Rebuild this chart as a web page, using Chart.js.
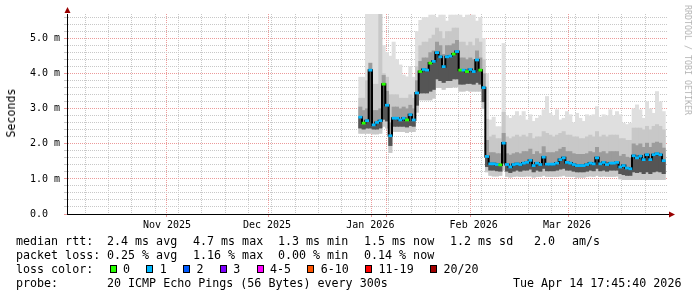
<!DOCTYPE html>
<html>
<head>
<meta charset="utf-8">
<title>Smokeping - median rtt</title>
<script src="https://cdn.jsdelivr.net/npm/chart.js@4.4.1/dist/chart.umd.min.js"></script>
<style>
  body { margin: 0; background: #fff; }
  #box { position: relative; width: 697px; height: 297px; overflow: hidden; }
  #chart { position: absolute; left: 0; top: 0; }
  .t { position: absolute; font-family: "DejaVu Sans Mono", monospace; font-size: 11.66px; line-height: 14px; white-space: pre; color: #000; }
  .sw { display: inline-block; width: 5px; height: 6.3px; border: 1px solid #000; margin: 0 6.3px 0 2.4px; }
  .rot { position: absolute; font-family: "DejaVu Sans Mono", monospace; white-space: pre; transform: translate(-50%, -50%) rotate(90deg); }
</style>
</head>
<body>
<div id="box">
  <canvas id="chart" width="697" height="297"></canvas>
  <div class="rot" style="left:11px; top:113px; font-size:11.66px; transform: translate(-50%, -50%) rotate(-90deg);">Seconds</div>
  <div class="rot" style="left:688px; top:60px; font-size:8.3px; color:#b4b4b4;">RRDTOOL / TOBI OETIKER</div>

  <div class="t" style="left:16px; top:234px;">median rtt:</div>
  <div class="t" style="left:107px; top:234px;">2.4 ms avg</div>
  <div class="t" style="left:193px; top:234px;">4.7 ms max</div>
  <div class="t" style="left:278px; top:234px;">1.3 ms min</div>
  <div class="t" style="left:364px; top:234px;">1.5 ms now</div>
  <div class="t" style="left:450px; top:234px;">1.2 ms sd</div>
  <div class="t" style="left:534px; top:234px;">2.0</div>
  <div class="t" style="left:572px; top:234px;">am/s</div>

  <div class="t" style="left:16px; top:248px;">packet loss:</div>
  <div class="t" style="left:107px; top:248px;">0.25 % avg</div>
  <div class="t" style="left:193px; top:248px;">1.16 % max</div>
  <div class="t" style="left:278px; top:248px;">0.00 % min</div>
  <div class="t" style="left:364px; top:248px;">0.14 % now</div>

  <div class="t" style="left:16px; top:262px;">loss color:</div>
  <div class="t" id="lossRow" style="left:107.3px; top:262px;"></div>

  <div class="t" style="left:16px; top:276px;">probe:</div>
  <div class="t" style="left:107px; top:276px;">20 ICMP Echo Pings (56 Bytes) every 300s</div>
  <div class="t" style="left:513px; top:276px;">Tue Apr 14 17:45:40 2026</div>
</div>

<script>
// time axis is in days since Oct 2 2025, one sample per day
const firstDay = 88;

// median rtt per day (ms)
const medRtt = [
  2.76, 2.59, 2.66, 4.10, 2.54, 2.61, 2.66, 3.70, 3.10, 2.23,
  2.73, 2.73, 2.68, 2.73, 2.68, 2.83, 2.68, 3.45, 4.06, 4.12,
  4.10, 4.30, 4.35, 4.60, 4.48, 4.20, 4.48, 4.50, 4.56, 4.63,
  4.10, 4.10, 4.06, 4.12, 4.06, 4.39, 4.10, 3.60, 1.64, 1.43,
  1.43, 1.41, 1.40, 2.02, 1.41, 1.34, 1.41, 1.43, 1.41, 1.45,
  1.47, 1.53, 1.38, 1.45, 1.41, 1.62, 1.42, 1.42, 1.42, 1.45,
  1.55, 1.60, 1.47, 1.45, 1.41, 1.38, 1.38, 1.38, 1.41, 1.45,
  1.43, 1.60, 1.43, 1.47, 1.41, 1.45, 1.45, 1.47, 1.34, 1.38,
  1.31, 1.29, 1.66, 1.60, 1.65, 1.55, 1.69, 1.55, 1.69, 1.72,
  1.69, 1.52
];

// slowest ping of the day (top of the light smoke)
const smokeHi = [
  3.90, 3.90, 5.70, 5.70, 5.70, 5.70, 5.70, 4.80, 4.60, 4.50,
  4.90, 4.40, 4.25, 3.96, 3.91, 4.20, 3.90, 5.20, 5.52, 5.60,
  5.60, 5.67, 5.67, 5.60, 5.67, 5.67, 5.50, 5.67, 5.67, 5.67,
  5.67, 5.60, 5.67, 5.67, 5.67, 5.50, 5.60, 5.00, 4.00, 2.68,
  2.76, 2.49, 2.49, 4.86, 2.80, 2.73, 2.80, 2.92, 2.80, 2.92,
  2.68, 2.83, 2.64, 2.73, 2.80, 2.97, 3.35, 2.87, 2.80, 2.97,
  2.68, 2.73, 2.92, 2.83, 2.60, 2.87, 2.73, 2.64, 2.83, 2.80,
  2.83, 3.06, 2.76, 2.83, 2.80, 2.97, 2.80, 2.92, 2.83, 2.59,
  2.55, 2.59, 3.00, 3.11, 2.97, 2.73, 3.20, 3.00, 2.87, 3.49,
  3.20, 2.92
];

// top of the medium grey smoke
const smokeMid = [
  3.30, 3.30, 3.80, 3.80, 3.70, 3.70, 5.70, 4.00, 3.90, 3.40,
  3.40, 3.40, 3.30, 3.30, 3.30, 3.40, 3.30, 4.20, 4.80, 4.90,
  4.90, 5.00, 5.10, 5.30, 5.20, 5.00, 5.20, 5.20, 5.30, 5.30,
  4.90, 4.90, 4.80, 4.90, 4.80, 5.00, 4.90, 4.40, 2.70, 2.20,
  2.25, 2.15, 2.15, 2.90, 2.20, 2.15, 2.20, 2.25, 2.20, 2.25,
  2.20, 2.30, 2.15, 2.20, 2.20, 2.35, 2.30, 2.25, 2.20, 2.25,
  2.30, 2.35, 2.25, 2.25, 2.20, 2.20, 2.15, 2.15, 2.20, 2.25,
  2.20, 2.35, 2.20, 2.25, 2.20, 2.25, 2.25, 2.25, 2.15, 2.15,
  2.10, 2.10, 2.45, 2.45, 2.45, 2.40, 2.50, 2.40, 2.50, 2.55,
  2.50, 2.40
];

// top of the dark grey smoke
const smokeDark = [
  3.05, 2.95, 3.00, 4.30, 2.95, 2.95, 3.00, 3.95, 3.50, 2.60,
  3.05, 3.05, 3.00, 3.05, 3.00, 3.10, 3.00, 3.80, 4.35, 4.45,
  4.45, 4.60, 4.65, 4.90, 4.80, 4.55, 4.80, 4.80, 4.85, 4.95,
  4.45, 4.45, 4.40, 4.45, 4.40, 4.65, 4.45, 4.00, 2.10, 1.75,
  1.75, 1.72, 1.72, 2.30, 1.72, 1.68, 1.72, 1.75, 1.72, 1.78,
  1.78, 1.85, 1.70, 1.78, 1.72, 1.92, 1.75, 1.75, 1.75, 1.78,
  1.85, 1.90, 1.78, 1.78, 1.72, 1.70, 1.70, 1.70, 1.72, 1.78,
  1.75, 1.90, 1.75, 1.78, 1.72, 1.78, 1.78, 1.78, 1.65, 1.70,
  1.62, 1.60, 2.00, 1.95, 2.00, 1.90, 2.02, 1.90, 2.02, 2.05,
  2.02, 1.88
];

// bottom of the dark smoke
const smokeDarkLo = [
  2.45, 2.42, 2.45, 2.45, 2.42, 2.42, 2.45, 2.70, 2.65, 1.95,
  2.50, 2.50, 2.50, 2.50, 2.48, 2.52, 2.50, 3.10, 3.45, 3.45,
  3.45, 3.50, 3.55, 3.85, 3.80, 3.75, 3.80, 3.80, 3.85, 3.85,
  3.70, 3.70, 3.72, 3.72, 3.70, 3.75, 3.70, 3.20, 1.35, 1.25,
  1.25, 1.23, 1.22, 1.45, 1.22, 1.18, 1.22, 1.25, 1.22, 1.25,
  1.25, 1.28, 1.20, 1.25, 1.22, 1.30, 1.23, 1.23, 1.23, 1.25,
  1.28, 1.30, 1.25, 1.25, 1.22, 1.20, 1.20, 1.20, 1.22, 1.25,
  1.23, 1.30, 1.23, 1.25, 1.22, 1.25, 1.25, 1.25, 1.15, 1.12,
  1.10, 1.10, 1.20, 1.18, 1.20, 1.15, 1.20, 1.15, 1.20, 1.22,
  1.20, 1.15
];

// fastest ping of the day (bottom of the smoke)
const smokeLo = [
  2.30, 2.30, 2.30, 2.30, 2.28, 2.28, 2.30, 2.50, 2.45, 1.75,
  2.35, 2.35, 2.35, 2.35, 2.32, 2.35, 2.35, 2.90, 3.25, 3.25,
  3.25, 3.25, 3.30, 3.60, 3.60, 3.55, 3.60, 3.60, 3.62, 3.62,
  3.50, 3.50, 3.52, 3.50, 3.50, 3.50, 3.50, 3.00, 1.20, 1.10,
  1.08, 1.08, 1.10, 1.25, 1.07, 1.05, 1.07, 1.08, 1.07, 1.07,
  1.08, 1.08, 1.05, 1.07, 1.07, 1.10, 1.07, 1.07, 1.07, 1.07,
  1.08, 1.10, 1.07, 1.07, 1.07, 1.05, 1.05, 1.05, 1.07, 1.08,
  1.07, 1.10, 1.07, 1.08, 1.07, 1.07, 1.07, 1.08, 1.00, 0.98,
  0.98, 0.98, 0.98, 0.98, 0.98, 0.98, 0.98, 0.98, 0.98, 0.98,
  0.98, 0.98
];

// lost pings out of 20
const lossCount = [
  1, 0, 1, 1, 1, 1, 1, 0, 1, 1,
  1, 1, 1, 1, 0, 1, 1, 1, 0, 1,
  1, 0, 1, 1, 1, 1, 1, 1, 0, 1,
  0, 1, 0, 1, 1, 1, 0, 1, 1, 1,
  1, 1, 0, 1, 1, 1, 1, 1, 1, 1,
  1, 1, 1, 1, 1, 1, 1, 1, 1, 1,
  1, 1, 1, 1, 1, 1, 1, 1, 1, 1,
  1, 1, 1, 1, 1, 1, 1, 1, 1, 1,
  1, 1, 1, 1, 1, 1, 1, 1, 1, 1,
  1, 1
];

const lossLabels = ['0', '1', '2', '3', '4-5', '6-10', '11-19', '20/20'];
const lossUpper  = [0, 1, 2, 3, 5, 10, 19, 20];
const lossColors = ['#26ff00', '#00b8ff', '#0059ff', '#7e00ff', '#ff00ff', '#ff5500', '#ff0000', '#a10000'];

// axis ticks
const monthDays   = [30, 60, 91, 122, 150];
const monthLabels = ['Nov 2025', 'Dec 2025', 'Jan 2026', 'Feb 2026', 'Mar 2026'];
const weekDays = [1.9, 8.9, 15.9, 22.9, 29.9, 36.9, 43.9, 50.9, 57.9, 64.9, 71.9, 78.9, 85.9,
                  92.9, 99.9, 106.9, 113.9, 120.9, 127.9, 134.9, 141.9, 148.9, 155.9, 162.9, 169.9, 176.9];
const majorDays = [14.9, 44.9, 75.9, 106.9, 134.9, 166.1];
const yTicks = [0, 0.2, 0.4, 0.6, 0.8, 1, 1.2, 1.4, 1.6, 1.8, 2, 2.2, 2.4, 2.6, 2.8, 3, 3.2, 3.4,
                3.6, 3.8, 4, 4.2, 4.4, 4.6, 4.8, 5, 5.2, 5.4, 5.6];
const yLabels = { 0: '0.0  ', 1: '1.0 m', 2: '2.0 m', 3: '3.0 m', 4: '4.0 m', 5: '5.0 m' };

const GRID = '#c8c8c8';
const MGRID = '#ec9a9a';
const monoFont = { family: 'DejaVu Sans Mono', size: 10 };

// legend row with the loss colours
const row = document.getElementById('lossRow');
lossLabels.forEach((lab, i) => {
    const sw = document.createElement('span');
    sw.className = 'sw';
    sw.style.background = lossColors[i];
    row.appendChild(sw);
    row.appendChild(document.createTextNode(lab + '  '));
});

function lossColor(n) {
    const i = lossUpper.findIndex(u => n <= u);
    return lossColors[i < 0 ? lossColors.length - 1 : i];
}

const days = medRtt.map((_, i) => firstDay + i);
function band(lo, hi) {
    return lo.map((v, i) => ({ x: days[i], y: [v, hi[i]] }));
}

// x ticks: weekly minor, monthly-ish major, and label-only ticks
const xTicks = [];
weekDays.forEach(v => xTicks.push({ value: v, kind: 'minor' }));
majorDays.forEach(v => xTicks.push({ value: v, kind: 'major' }));
monthDays.forEach((v, i) => xTicks.push({ value: v, kind: 'label', text: monthLabels[i] }));

const isMajorY = v => Number.isInteger(Math.round(v * 10) / 10);

const barBase = { type: 'bar', grouped: false, barPercentage: 1, categoryPercentage: 1, borderWidth: 0 };

const axisArrows = {
    id: 'axisArrows',
    afterDraw(chart) {
        const { ctx, chartArea: a } = chart;
        ctx.save();
        ctx.fillStyle = '#990000';
        ctx.beginPath();
        ctx.moveTo(a.left + 0.5, a.top - 7);
        ctx.lineTo(a.left - 2.5, a.top - 1);
        ctx.lineTo(a.left + 3.5, a.top - 1);
        ctx.closePath();
        ctx.fill();
        ctx.beginPath();
        ctx.moveTo(a.right + 7, a.bottom + 0.5);
        ctx.lineTo(a.right + 1, a.bottom - 2.5);
        ctx.lineTo(a.right + 1, a.bottom + 3.5);
        ctx.closePath();
        ctx.fill();
        ctx.restore();
    }
};

new Chart(document.getElementById('chart'), {
    type: 'bar',
    data: {
        datasets: [
            Object.assign({}, barBase, {
                label: 'median',
                data: medRtt.map((v, i) => ({ x: days[i], y: [v - 0.03, v + 0.03] })),
                backgroundColor: lossCount.map(lossColor),
                order: 0
            }),
            {
                type: 'line',
                label: 'median line',
                data: medRtt.map((v, i) => ({ x: days[i], y: v })),
                borderColor: '#000',
                borderWidth: 2,
                stepped: 'middle',
                pointRadius: 0,
                order: 1
            },
            Object.assign({}, barBase, { data: band(smokeDarkLo, medRtt), backgroundColor: '#555555', order: 2 }),
            Object.assign({}, barBase, { data: band(smokeDarkLo, smokeDark), backgroundColor: '#9c9c9c', order: 3 }),
            Object.assign({}, barBase, { data: band(smokeLo, smokeMid), backgroundColor: '#c8c8c8', order: 4 }),
            Object.assign({}, barBase, { data: band(smokeLo, smokeHi), backgroundColor: '#dfdfdf', order: 5 })
        ]
    },
    options: {
        responsive: false,
        animation: false,
        layout: { padding: { left: 0, right: 29, top: 14, bottom: 0 } },
        plugins: { legend: { display: false }, tooltip: { enabled: false } },
        scales: {
            x: {
                type: 'linear',
                min: 0,
                max: 180.3,
                offset: false,
                afterBuildTicks: s => { s.ticks = xTicks.map(t => ({ value: t.value })); },
                afterFit: s => { s.height = 83; },
                ticks: {
                    autoSkip: false,
                    maxRotation: 0,
                    padding: 2,
                    color: '#000',
                    font: monoFont,
                    callback: (v, i) => xTicks[i] && xTicks[i].kind === 'label' ? xTicks[i].text : ''
                },
                grid: {
                    lineWidth: 1,
                    tickLength: 3,
                    borderDash: [1, 1],
                    color: c => {
                        const t = xTicks[c.index];
                        if (!t || t.kind === 'label') return 'rgba(0,0,0,0)';
                        return t.kind === 'major' ? MGRID : GRID;
                    },
                    tickColor: c => {
                        const t = xTicks[c.index];
                        return t && t.kind === 'major' ? MGRID : 'rgba(0,0,0,0)';
                    }
                },
                border: { color: '#000', width: 1, dash: [1, 1] }
            },
            y: {
                min: 0,
                max: 5.7,
                afterBuildTicks: s => { s.ticks = yTicks.map(v => ({ value: v })); },
                afterFit: s => { s.width = 67; },
                ticks: {
                    autoSkip: false,
                    padding: 4,
                    color: '#000',
                    font: monoFont,
                    callback: v => yLabels[Math.round(v * 10) / 10] || ''
                },
                grid: {
                    lineWidth: 1,
                    tickLength: 3,
                    borderDash: [1, 1],
                    color: c => (c.tick && isMajorY(c.tick.value) ? MGRID : GRID),
                    tickColor: c => (c.tick && isMajorY(c.tick.value) ? MGRID : GRID)
                },
                border: { color: '#000', width: 1, dash: [1, 1] }
            }
        }
    },
    plugins: [axisArrows]
});
</script>
</body>
</html>
